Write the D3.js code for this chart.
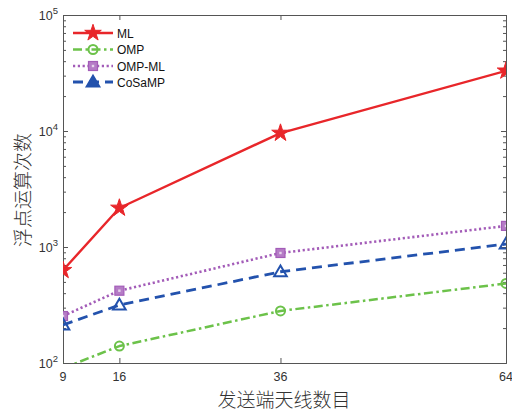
<!DOCTYPE html>
<html>
<head>
<meta charset="utf-8">
<script src="https://cdn.jsdelivr.net/npm/d3@7"></script>
<style>
  html, body { margin: 0; padding: 0; background: #fff; }
  svg { display: block; }
  .tick-label { font-family: "Liberation Sans", Arial, sans-serif; font-size: 12.5px; fill: #333; }
  .axis-title { font-family: "Noto Sans CJK SC", sans-serif; font-size: 19px; fill: #333; font-weight: 300; }
  .legend-text { font-family: "Liberation Sans", Arial, sans-serif; font-size: 12px; fill: #111; }
</style>
</head>
<body>
<svg id="chart" width="512" height="414"></svg>
<script>
// Number of transmit antennas
const antennas = [9, 16, 36, 64];
// Floating-point operation counts per detector
const flopsML = [630, 2170, 9600, 33000];
const flopsOMP = [90, 140, 281, 485];
const flopsOMPML = [254, 420, 888, 1520];
const flopsCoSaMP = [213, 316, 612, 1060];

const xTicks = [9, 16, 36, 64];
const yMajorTicks = [100, 1000, 10000, 100000];
const yTickExponents = ["2", "3", "4", "5"];

const seriesNames = ["ML", "OMP", "OMP-ML", "CoSaMP"];

const svg = d3.select("#chart");
const margin = { left: 63, right: 506, top: 15, bottom: 363 };

const x = d3.scaleLinear().domain([9, 64]).range([margin.left, margin.right]);
const y = d3.scaleLog().domain([100, 100000]).range([margin.bottom, margin.top]);

const axisColor = "#555";

svg.append("defs").append("clipPath").attr("id", "plot-clip")
  .append("rect")
  .attr("x", margin.left).attr("y", margin.top)
  .attr("width", margin.right - margin.left)
  .attr("height", margin.bottom - margin.top);

// Axes: bottom/left with labels, top/right mirrored ticks only
const majorLen = 5, minorLen = 3;
const minorTicks = [];
for (let d = 100; d < 100000; d *= 10) {
  for (let k = 2; k <= 9; k++) minorTicks.push(d * k);
}

const bottomAxis = d3.axisBottom(x).tickValues(xTicks).tickSize(-majorLen).tickFormat("");
const topAxis = d3.axisTop(x).tickValues(xTicks).tickSize(-majorLen).tickFormat("");
const leftAxis = d3.axisLeft(y).tickValues(yMajorTicks).tickSize(-majorLen).tickFormat("");
const rightAxis = d3.axisRight(y).tickValues(yMajorTicks).tickSize(-majorLen).tickFormat("");
const leftMinor = d3.axisLeft(y).tickValues(minorTicks).tickSize(-minorLen).tickFormat("");
const rightMinor = d3.axisRight(y).tickValues(minorTicks).tickSize(-minorLen).tickFormat("");

function styleAxis(g) {
  g.selectAll("path").attr("stroke", axisColor).attr("stroke-width", 1);
  g.selectAll("line").attr("stroke", axisColor).attr("stroke-width", 1);
}

svg.append("g").attr("transform", `translate(0,${margin.bottom})`).call(bottomAxis).call(styleAxis);
svg.append("g").attr("transform", `translate(0,${margin.top})`).call(topAxis).call(styleAxis);
svg.append("g").attr("transform", `translate(${margin.left},0)`).call(leftAxis).call(styleAxis);
svg.append("g").attr("transform", `translate(${margin.right},0)`).call(rightAxis).call(styleAxis);
svg.append("g").attr("transform", `translate(${margin.left},0)`).call(leftMinor).call(styleAxis)
  .select(".domain").remove();
svg.append("g").attr("transform", `translate(${margin.right},0)`).call(rightMinor).call(styleAxis)
  .select(".domain").remove();

// X tick labels
svg.append("g").selectAll("text").data(xTicks).join("text")
  .attr("class", "tick-label")
  .attr("x", d => x(d)).attr("y", margin.bottom + 18)
  .attr("text-anchor", "middle")
  .text(d => d);

// Y tick labels as 10 with superscript exponent
const yl = svg.append("g").selectAll("text").data(yMajorTicks).join("text")
  .attr("class", "tick-label")
  .attr("x", margin.left - 5).attr("y", d => y(d) + 5)
  .attr("text-anchor", "end");
yl.append("tspan").text("10");
yl.append("tspan").attr("dy", -6).attr("font-size", 9.5).text((d, i) => yTickExponents[i]);

// Axis titles
svg.append("text").attr("class", "axis-title")
  .attr("transform", `translate(21,${(margin.top + margin.bottom) / 2 + 1}) rotate(-90)`)
  .attr("text-anchor", "middle").attr("dominant-baseline", "central")
  .text("浮点运算次数");
svg.append("text").attr("class", "axis-title")
  .attr("x", 284).attr("y", 407)
  .attr("text-anchor", "middle")
  .text("发送端天线数目");

// Series definitions
const series = [
  { name: seriesNames[0], values: flopsML, color: "#e8262a", width: 2.4, dash: null, marker: "star" },
  { name: seriesNames[1], values: flopsOMP, color: "#6cc24a", width: 2.5, dash: "9,3.5,2.5,3.5", marker: "circle" },
  { name: seriesNames[2], values: flopsOMPML, color: "#a35cb8", width: 2.6, dash: "2.2,2.6", marker: "square" },
  { name: seriesNames[3], values: flopsCoSaMP, color: "#2352ad", width: 2.8, dash: "10,6", marker: "triangle" }
];

function drawMarker(g, type, cx, cy, color, legend) {
  if (type === "star") {
    g.append("path")
      .attr("d", d3.symbol().type(d3.symbolStar).size(legend ? 85 : 95)())
      .attr("transform", `translate(${cx},${cy})`)
      .attr("fill", color).attr("stroke", color).attr("stroke-width", 1);
  } else if (type === "circle") {
    g.append("circle").attr("cx", cx).attr("cy", cy).attr("r", 4.5)
      .attr("fill", "none").attr("stroke", color).attr("stroke-width", 2);
  } else if (type === "square") {
    g.append("rect").attr("x", cx - 4.5).attr("y", cy - 4.5).attr("width", 9).attr("height", 9)
      .attr("fill", "#b57cc6").attr("stroke", color).attr("stroke-width", 1.2);
    g.append("rect").attr("x", cx - 1.2).attr("y", cy - 1.2).attr("width", 2.4).attr("height", 2.4)
      .attr("fill", "#e6d3ec");
  } else if (type === "triangle") {
    const s = 6;
    g.append("path")
      .attr("d", `M${cx},${cy - s * 1.05}L${cx + s * 1.05},${cy + s * 0.75}L${cx - s * 1.05},${cy + s * 0.75}Z`)
      .attr("fill", legend ? color : "none").attr("stroke", color).attr("stroke-width", 2)
      .attr("stroke-linejoin", "miter");
  }
}

const plot = svg.append("g").attr("clip-path", "url(#plot-clip)");
const line = d3.line().x((d, i) => x(antennas[i])).y(d => y(d));

series.forEach(s => {
  plot.append("path").datum(s.values)
    .attr("d", line)
    .attr("fill", "none")
    .attr("stroke", s.color)
    .attr("stroke-width", s.width)
    .attr("stroke-dasharray", s.dash)
    .attr("stroke-linejoin", "round");
  s.values.forEach((v, i) => drawMarker(plot, s.marker, x(antennas[i]), y(v), s.color, false));
});

// Legend
const legendY = [33, 49.5, 66, 82];
series.forEach((s, i) => {
  const g = svg.append("g");
  const ly = legendY[i];
  g.append("line").attr("x1", 73).attr("x2", 113).attr("y1", ly).attr("y2", ly)
    .attr("stroke", s.color).attr("stroke-width", s.width).attr("stroke-dasharray", s.dash);
  drawMarker(g, s.marker, 93, ly, s.color, true);
  g.append("text").attr("class", "legend-text").attr("x", 117).attr("y", ly + 4.5).text(s.name);
});
</script>
</body>
</html>
